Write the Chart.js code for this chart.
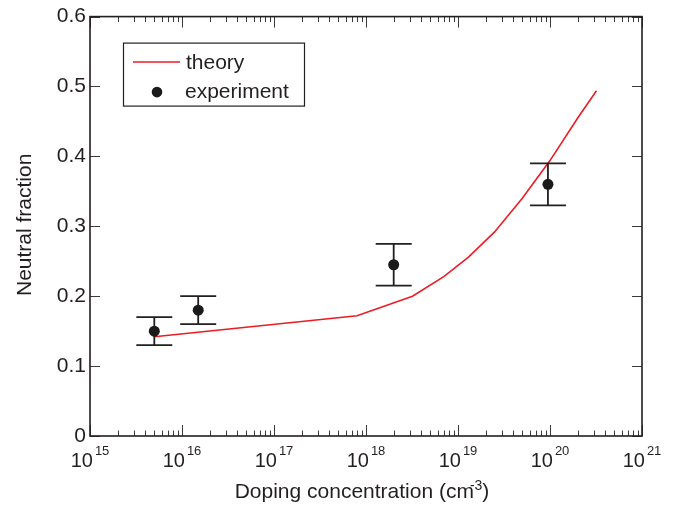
<!DOCTYPE html>
<html><head><meta charset="utf-8">
<script src="https://cdn.jsdelivr.net/npm/chart.js@4.4.0/dist/chart.umd.min.js"></script>
<style>html,body{margin:0;padding:0;background:#fff}</style>
</head><body>
<canvas id="c" width="679" height="506"></canvas>
<script>
// ---- data ----
const theoryX = [5e15, 8e17, 3.2e18, 7e18, 1.3e19, 2.5e19, 5e19, 1e20, 2e20, 3.2e20];
const theoryY = [0.142, 0.172, 0.200, 0.228, 0.256, 0.292, 0.340, 0.394, 0.455, 0.494];
const expX = [5e15, 1.5e16, 2e18, 9.5e19];
const expY = [0.150, 0.180, 0.245, 0.360];
const expErr = [0.020, 0.020, 0.030, 0.030];
const xDecadeExponents = [15, 16, 17, 18, 19, 20, 21];
const yTickValues = [0, 0.1, 0.2, 0.3, 0.4, 0.5, 0.6];
const yTickLabels = ['0', '0.1', '0.2', '0.3', '0.4', '0.5', '0.6'];
const seriesNames = ['theory', 'experiment'];
const yTitle = 'Neutral fraction';
const xTitleMain = 'Doping concentration (cm';
const xTitleSup = '-3';
const xTitleEnd = ')';

const FONT = '"Liberation Sans", Arial, Helvetica, sans-serif';
const INK = '#231f20';
const RED = '#ec1c24';

Chart.defaults.font.family = FONT;
Chart.defaults.color = INK;

function drawErrorBars(chart) {
  const xs = chart.scales.x, ys = chart.scales.y, ctx = chart.ctx;
  ctx.save();
  ctx.strokeStyle = INK;
  ctx.lineWidth = 1.8;
  expX.forEach((v, i) => {
    const px = xs.getPixelForValue(v);
    const top = ys.getPixelForValue(expY[i] + expErr[i]);
    const bot = ys.getPixelForValue(expY[i] - expErr[i]);
    ctx.beginPath();
    ctx.moveTo(px, top); ctx.lineTo(px, bot);
    ctx.moveTo(px - 18, top); ctx.lineTo(px + 18, top);
    ctx.moveTo(px - 18, bot); ctx.lineTo(px + 18, bot);
    ctx.stroke();
  });
  ctx.restore();
}

const framePlugin = {
  id: 'frame',
  afterDatasetDraw(chart, args) {
    if (args.index === 0) drawErrorBars(chart);
  },
  afterDraw(chart) {
    const ctx = chart.ctx, ca = chart.chartArea;
    const xs = chart.scales.x, ys = chart.scales.y;
    ctx.save();
    // ticks
    ctx.strokeStyle = '#3a3a3a';
    ctx.lineWidth = 1;
    ctx.beginPath();
    const lastE = xDecadeExponents[xDecadeExponents.length - 1];
    for (let e = xDecadeExponents[0]; e <= lastE; e++) {
      for (let m = 1; m <= 9; m++) {
        const v = m * Math.pow(10, e);
        if (v > Math.pow(10, lastE)) break;
        const px = Math.round(xs.getPixelForValue(v)) + 0.5;
        const len = m === 1 ? 11 : 5.5;
        ctx.moveTo(px, ca.bottom); ctx.lineTo(px, ca.bottom - len);
        ctx.moveTo(px, ca.top); ctx.lineTo(px, ca.top + len);
      }
    }
    yTickValues.forEach(v => {
      const py = Math.round(ys.getPixelForValue(v)) + 0.5;
      ctx.moveTo(ca.left, py); ctx.lineTo(ca.left + 10, py);
      ctx.moveTo(ca.right, py); ctx.lineTo(ca.right - 10, py);
    });
    ctx.stroke();
    // frame
    ctx.strokeStyle = INK;
    ctx.lineWidth = 1.6;
    ctx.strokeRect(ca.left, ca.top, ca.right - ca.left, ca.bottom - ca.top);

    // x tick labels with superscripts
    ctx.fillStyle = INK;
    ctx.textBaseline = 'alphabetic';
    ctx.textAlign = 'left';
    xDecadeExponents.forEach(e => {
      const px = xs.getPixelForValue(Math.pow(10, e));
      ctx.font = '20px ' + FONT;
      const wb = ctx.measureText('10').width;
      ctx.font = '13px ' + FONT;
      const ws = ctx.measureText(String(e)).width;
      const start = px - (wb + 2 + ws) / 2;
      ctx.font = '20px ' + FONT;
      ctx.fillText('10', start, 467);
      ctx.font = '13px ' + FONT;
      ctx.fillText(String(e), start + wb + 2, 455);
    });

    // x title
    ctx.font = '21px ' + FONT;
    const w1 = ctx.measureText(xTitleMain).width;
    const w3 = ctx.measureText(xTitleEnd).width;
    ctx.font = '14px ' + FONT;
    const w2 = ctx.measureText(xTitleSup).width;
    const total = w1 - 4 + w2 + w3;
    const cx = (ca.left + ca.right) / 2 - 4;
    let sx = cx - total / 2;
    ctx.font = '21px ' + FONT;
    ctx.fillText(xTitleMain, sx, 498);
    ctx.font = '14px ' + FONT;
    ctx.fillText(xTitleSup, sx + w1 - 4, 490);
    ctx.font = '21px ' + FONT;
    ctx.fillText(xTitleEnd, sx + w1 - 4 + w2, 498);

    // y title
    ctx.save();
    ctx.translate(31, (ca.top + ca.bottom) / 2 - 1.5);
    ctx.rotate(-Math.PI / 2);
    ctx.textAlign = 'center';
    ctx.font = '21px ' + FONT;
    ctx.fillText(yTitle, 0, 0);
    ctx.restore();

    // legend
    const lx = ca.left + 33, ly = ca.top + 26;
    ctx.fillStyle = '#fff';
    ctx.fillRect(lx, ly, 181, 63);
    ctx.strokeStyle = INK;
    ctx.lineWidth = 1.2;
    ctx.strokeRect(lx + 0.5, ly + 0.5, 181, 63);
    ctx.strokeStyle = RED;
    ctx.lineWidth = 1.5;
    ctx.beginPath();
    ctx.moveTo(lx + 10, ly + 19.5); ctx.lineTo(lx + 57, ly + 19.5);
    ctx.stroke();
    ctx.fillStyle = '#1a1a1a';
    ctx.beginPath();
    ctx.arc(lx + 34, ly + 49.5, 5.3, 0, Math.PI * 2);
    ctx.fill();
    ctx.fillStyle = INK;
    ctx.font = '21px ' + FONT;
    ctx.textAlign = 'left';
    ctx.fillText(seriesNames[0], lx + 63, ly + 26);
    ctx.fillText(seriesNames[1], lx + 62, ly + 55);
    ctx.restore();
  }
};

new Chart(document.getElementById('c'), {
  type: 'scatter',
  data: {
    datasets: [
      {
        label: seriesNames[0],
        data: theoryX.map((x, i) => ({ x, y: theoryY[i] })),
        showLine: true,
        borderColor: RED,
        borderWidth: 1.6,
        pointRadius: 0,
        tension: 0,
        order: 2
      },
      {
        label: seriesNames[1],
        data: expX.map((x, i) => ({ x, y: expY[i] })),
        pointRadius: 5.5,
        pointBackgroundColor: '#1a1a1a',
        pointBorderColor: '#1a1a1a',
        pointBorderWidth: 0,
        order: 1
      }
    ]
  },
  options: {
    responsive: false,
    animation: false,
    devicePixelRatio: 1,
    layout: { padding: { left: 0, top: 13, right: 37, bottom: 0 } },
    plugins: { legend: { display: false }, tooltip: { enabled: false } },
    scales: {
      x: {
        type: 'logarithmic',
        min: 1e15, max: 1e21,
        grid: { display: false, drawTicks: false },
        border: { display: false },
        ticks: { display: false },
        afterFit: s => { s.height = 70; }
      },
      y: {
        type: 'linear',
        min: 0, max: 0.6,
        grid: { display: false, drawTicks: false },
        border: { display: false },
        afterBuildTicks: s => { s.ticks = yTickValues.map(v => ({ value: v })); },
        ticks: {
          padding: 4,
          font: { size: 21 },
          color: INK,
          callback: (v, i) => yTickLabels[i]
        },
        afterFit: s => { s.width = 90; }
      }
    }
  },
  plugins: [framePlugin]
});
</script>
</body></html>
